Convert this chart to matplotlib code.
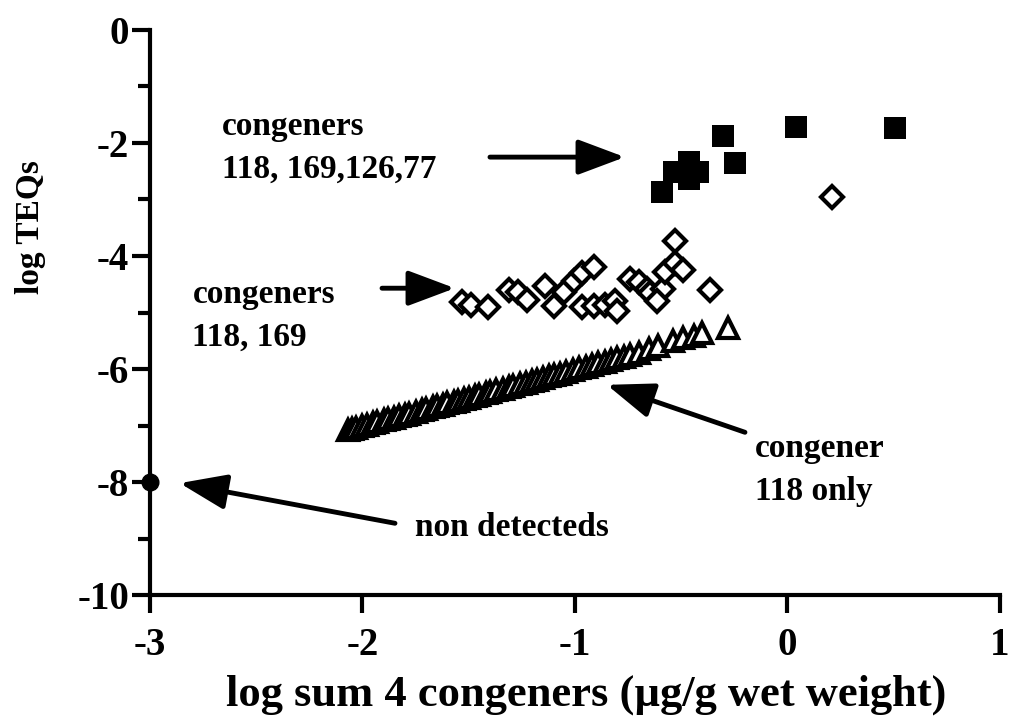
import numpy as np
import matplotlib.pyplot as plt

# log sum of 4 congeners vs log TEQs
sq_x = [-0.59, -0.535, -0.465, -0.42, -0.465, -0.305, -0.245, 0.04, 0.505]
sq_y = [-2.87, -2.52, -2.33, -2.52, -2.64, -1.88, -2.35, -1.71, -1.74]

dia_x = [-1.53, -1.49, -1.41, -1.31, -1.27, -1.225, -1.14, -1.10, -1.05, -1.005,
         -0.965, -0.91, -0.965, -0.91, -0.86, -0.81, -0.80, -0.74, -0.70, -0.66,
         -0.645, -0.585, -0.575, -0.53, -0.53, -0.49, -0.365, -0.615, 0.21]
dia_y = [-4.82, -4.86, -4.90, -4.60, -4.63, -4.78, -4.53, -4.88, -4.64, -4.44,
         -4.30, -4.20, -4.90, -4.88, -4.87, -4.80, -4.97, -4.40, -4.46, -4.58,
         -4.66, -4.58, -4.28, -4.13, -3.74, -4.25, -4.60, -4.80, -2.95]

tri_x = [-2.07, -2.05, -2.03, -2.00, -1.98, -1.95, -1.93, -1.90, -1.88, -1.85,
         -1.83, -1.80, -1.78, -1.75, -1.72, -1.70, -1.67, -1.65, -1.62, -1.60,
         -1.57, -1.55, -1.52, -1.50, -1.47, -1.45, -1.42, -1.40, -1.37, -1.34,
         -1.31, -1.29, -1.26, -1.23, -1.20, -1.18, -1.15, -1.12, -1.10, -1.07,
         -1.04, -1.01, -0.98, -0.95, -0.92, -0.89, -0.86, -0.83, -0.80, -0.77,
         -0.74, -0.70, -0.65, -0.61, -0.54, -0.49, -0.44, -0.40, -0.28]
tri_y = [-7.08, -7.06, -7.04, -7.01, -6.99, -6.96, -6.94, -6.91, -6.89, -6.86,
         -6.84, -6.81, -6.79, -6.76, -6.73, -6.71, -6.68, -6.66, -6.63, -6.61,
         -6.58, -6.56, -6.53, -6.51, -6.48, -6.46, -6.43, -6.41, -6.38, -6.35,
         -6.32, -6.30, -6.27, -6.24, -6.21, -6.19, -6.16, -6.13, -6.11, -6.08,
         -6.05, -6.02, -5.99, -5.96, -5.93, -5.90, -5.87, -5.84, -5.81, -5.78,
         -5.75, -5.71, -5.64, -5.59, -5.50, -5.46, -5.41, -5.37, -5.28]

nd_x = [-3.0]
nd_y = [-8.0]

plt.rcParams['font.family'] = ['Liberation Serif', 'DejaVu Serif']
plt.rcParams['font.weight'] = 'bold'
plt.rcParams['axes.unicode_minus'] = False

fig = plt.figure(figsize=(10.12, 7.26), dpi=100)
ax = fig.add_axes([0.1482, 0.1804, 0.8399, 0.7783])

ax.plot(tri_x, tri_y, '^', ms=15, mfc='white', mec='black', mew=3, ls='none')
ax.plot(dia_x, dia_y, 'D', ms=11, mfc='white', mec='black', mew=3, ls='none')
ax.plot(sq_x, sq_y, 's', ms=16, color='black', mew=0, ls='none')
ax.plot(nd_x, nd_y, 'o', ms=12, color='black', clip_on=False, ls='none')

ax.set_xlim(-3, 1)
ax.set_ylim(-10, 0)
ax.set_xticks([-3, -2, -1, 0, 1])
ax.set_yticks([-10, -8, -6, -4, -2, 0])
ax.set_yticks([-9, -7, -5, -3, -1], minor=True)
for s in ['top', 'right']:
    ax.spines[s].set_visible(False)
for s in ['left', 'bottom']:
    ax.spines[s].set_linewidth(3)
ax.tick_params(which='major', length=13, width=3, labelsize=28, direction='out')
ax.tick_params(which='minor', length=8.5, width=3, direction='out')
ax.tick_params(axis='x', pad=10)
ax.tick_params(axis='y', pad=2)
for lab in ax.get_xticklabels() + ax.get_yticklabels():
    lab.set_fontweight('bold')

fig.text(0.5795, 0.043, 'log sum 4 congeners (\u00b5g/g wet weight)', fontsize=32,
         fontweight='bold', ha='center', va='center')
fig.text(0.03, 0.687, 'log TEQs', fontsize=24, fontweight='bold', rotation=90,
         ha='center', va='center')

arrow = dict(arrowstyle='-|>,head_length=1.2,head_width=0.45', mutation_scale=24,
             lw=3.5, color='black', shrinkA=0, shrinkB=0)
ax.annotate('', xy=(-0.765, -2.25), xytext=(-1.40, -2.25), arrowprops=arrow)
ax.annotate('', xy=(-1.565, -4.57), xytext=(-1.908, -4.57), arrowprops=arrow)
ax.annotate('', xy=(-0.85, -6.28), xytext=(-0.20, -7.12), arrowprops=arrow)
ax.annotate('', xy=(-2.86, -8.02), xytext=(-1.847, -8.73), arrowprops=arrow)

tfont = dict(fontsize=24, fontweight='bold', ha='left', va='center', linespacing=1.5)
ax.text(-2.66, -2.09, 'congeners\n118, 169,126,77', **tfont)
ax.text(-2.80, -5.06, 'congeners\n118, 169', **tfont)
ax.text(-0.153, -7.79, 'congener\n118 only', **tfont)
ax.text(-1.753, -8.80, 'non detecteds', **tfont)

plt.savefig('out.png', dpi=100)
